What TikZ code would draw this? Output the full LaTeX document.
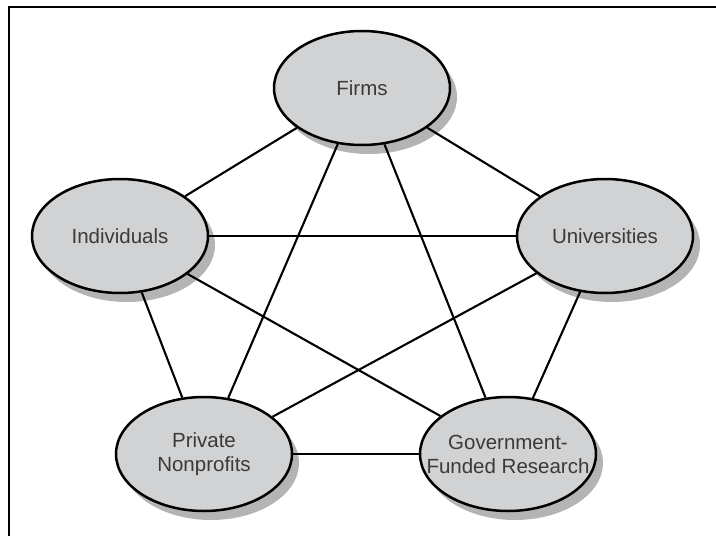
\documentclass[tikz,border=0pt]{standalone}
\usepackage{fontspec}
\setmainfont{Liberation Sans}
\usepackage{tikz}
\usetikzlibrary{shapes.geometric,shadows}
\definecolor{ellfill}{HTML}{D1D2D4}
\definecolor{ellshadow}{HTML}{B3B4B6}
\definecolor{txtgray}{HTML}{3A3A3A}
\newcommand{\zw}[1]{\makebox[0pt]{#1}}

\begin{document}
\begin{tikzpicture}[x=1pt,y=-1pt,
  sektor/.style={ellipse,draw=black,line width=2.5pt,fill=ellfill,
    minimum width=176pt,minimum height=114pt,inner sep=0pt,align=center,
    text=txtgray,font=\fontsize{20.5}{24}\selectfont,
    drop shadow={shadow xshift=7pt,shadow yshift=-9pt,fill=ellshadow,opacity=1}},
  link/.style={line width=2.1pt,black}]
\useasboundingbox (0,0) rectangle (716,536);
% frame
\draw[line width=2.2pt] (9,536) -- (9,7) -- (716,7);
% sectors
\node[sektor] (firms) at (362,88) {\zw{Firms}};
\node[sektor] (indiv) at (120,236) {\zw{Individuals}};
\node[sektor] (univ) at (605,236) {\zw{Universities}};
\node[sektor] (priv) at (204,454) {\zw{Private}\\\zw{Nonprofits}};
\node[sektor] (gov) at (508,454) {\zw{Government-}\\\zw{Funded Research}};
% links
\draw[link] (firms) -- (indiv);
\draw[link] (firms) -- (univ);
\draw[link] (firms) -- (priv);
\draw[link] (firms) -- (gov);
\draw[link] (indiv) -- (univ);
\draw[link] (indiv) -- (priv);
\draw[link] (indiv) -- (gov);
\draw[link] (univ) -- (priv);
\draw[link] (univ) -- (gov);
\draw[link] (priv) -- (gov);
\end{tikzpicture}
\end{document}
